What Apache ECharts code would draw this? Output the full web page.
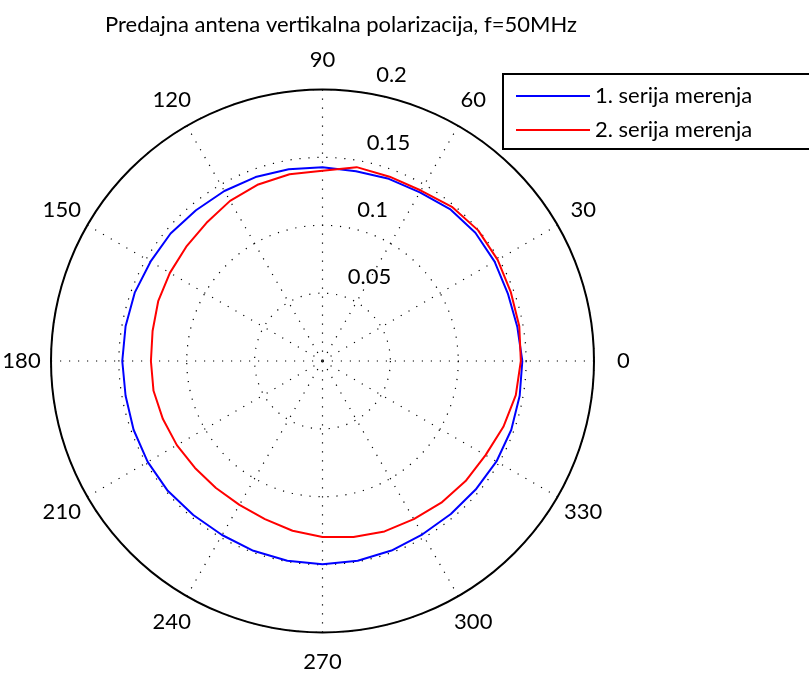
<!DOCTYPE html>
<html>
<head>
<meta charset="utf-8">
<script src="https://cdn.jsdelivr.net/npm/echarts@6/dist/echarts.min.js"></script>
<style>
  html, body { margin: 0; padding: 0; background: #fff; }
  #chart { width: 809px; height: 675px; }
</style>
</head>
<body>
<div id="chart"></div>
<script>
// angle of each reading, degrees
const angles = [0, 10, 20, 30, 40, 50, 60, 70, 80, 90, 100, 110,
  120, 130, 140, 150, 160, 170, 180, 190, 200, 210, 220, 230,
  240, 250, 260, 270, 280, 290, 300, 310, 320, 330, 340, 350];

// 1. serija merenja
const serija1 = [0.1472, 0.1457, 0.1453, 0.1464, 0.1470, 0.1461, 0.1435, 0.1428, 0.1420, 0.1428, 0.1435, 0.1442,
  0.1446, 0.1450, 0.1461, 0.1463, 0.1472, 0.1473, 0.1475, 0.1473, 0.1481, 0.1487, 0.1488, 0.1481,
  0.1480, 0.1488, 0.1494, 0.1497, 0.1494, 0.1486, 0.1474, 0.1471, 0.1473, 0.1480, 0.1480, 0.1475];

// 2. serija merenja
const serija2 = [0.1461, 0.1472, 0.1477, 0.1490, 0.1497, 0.1483, 0.1450, 0.1445, 0.1450, 0.1402, 0.1397, 0.1384,
  0.1362, 0.1329, 0.1310, 0.1298, 0.1288, 0.1271, 0.1264, 0.1264, 0.1251, 0.1239, 0.1226, 0.1221,
  0.1224, 0.1240, 0.1270, 0.1296, 0.1316, 0.1336, 0.1345, 0.1362, 0.1376, 0.1387, 0.1418, 0.1446];

const seriesNames = ['1. serija merenja', '2. serija merenja'];
const angleTicks = [0, 30, 60, 90, 120, 150, 180, 210, 240, 270, 300, 330, 360];
const radiusTicks = [0, 0.05, 0.1, 0.15, 0.2];

const FONT = 'Lato';
const center = [322.5, 361];
const radius = 271.5;

// closed loop: repeat the first reading at 360
function loop(vals) {
  const pts = angles.map((a, i) => [vals[i], a]);
  pts.push([vals[0], 360]);
  return pts;
}

const dotted = { color: '#000', width: 1.2, type: [1.2, 7.8] };

const chart = echarts.init(document.getElementById('chart'), null, { renderer: 'canvas' });
chart.setOption({
  animation: false,
  backgroundColor: '#fff',
  title: {
    text: 'Predajna antena vertikalna polarizacija, f=50MHz',
    left: 100,
    top: 9,
    textStyle: { fontFamily: FONT, fontSize: 22, fontWeight: 'normal', color: '#000' }
  },
  // legend frame runs off the right edge like in the original figure
  graphic: [{
    type: 'rect',
    z: 3,
    shape: { x: 503, y: 74, width: 330, height: 75 },
    style: { fill: '#fff', stroke: '#000', lineWidth: 2 }
  }],
  legend: {
    orient: 'vertical',
    left: 502,
    top: 76,
    data: seriesNames,
    icon: 'rect',
    itemWidth: 74,
    itemHeight: 2,
    itemGap: 12,
    itemTextGap: 6,
    padding: [9, 10, 9, 14],
    textStyle: { fontFamily: FONT, fontSize: 22, color: '#000' }
  },
  polar: [
    { center: center, radius: radius },
    { center: center, radius: radius }
  ],
  angleAxis: [
    {
      polarIndex: 0,
      type: 'value',
      min: angleTicks[0],
      max: angleTicks[angleTicks.length - 1],
      interval: angleTicks[1] - angleTicks[0],
      startAngle: 0,
      clockwise: false,
      axisLine: { lineStyle: { color: '#000', width: 2 } },
      axisTick: { show: false },
      splitLine: { show: true, lineStyle: dotted },
      axisLabel: {
        margin: 29,
        formatter: v => '{c|' + v + '}',
        rich: {
          c: { width: 1, lineHeight: 1, align: 'center', verticalAlign: 'middle',
               fontFamily: FONT, fontSize: 22, color: '#000' }
        }
      }
    },
    { polarIndex: 1, type: 'value', min: 0, max: 360, startAngle: 82, show: false }
  ],
  radiusAxis: [
    {
      polarIndex: 0,
      min: radiusTicks[0],
      max: radiusTicks[radiusTicks.length - 1],
      interval: radiusTicks[1] - radiusTicks[0],
      axisLine: { show: false },
      axisTick: { show: false },
      axisLabel: { show: false },
      splitLine: { show: true, lineStyle: dotted }
    },
    {
      polarIndex: 1,
      min: radiusTicks[0],
      max: radiusTicks[radiusTicks.length - 1],
      interval: radiusTicks[1] - radiusTicks[0],
      axisLine: { show: false },
      axisTick: { show: false },
      splitLine: { show: false },
      axisLabel: {
        showMinLabel: false,
        margin: -16,
        align: 'left',
        verticalAlign: 'bottom',
        padding: [0, 0, 8, 0],
        fontFamily: FONT, fontSize: 22, color: '#000'
      }
    }
  ],
  series: [
    {
      name: seriesNames[0],
      type: 'line',
      coordinateSystem: 'polar',
      polarIndex: 0,
      symbol: 'none',
      color: '#0000ff',
      lineStyle: { color: '#0000ff', width: 2 },
      data: loop(serija1)
    },
    {
      name: seriesNames[1],
      type: 'line',
      coordinateSystem: 'polar',
      polarIndex: 0,
      symbol: 'none',
      color: '#ff0000',
      lineStyle: { color: '#ff0000', width: 2 },
      data: loop(serija2)
    }
  ]
});
</script>
</body>
</html>
